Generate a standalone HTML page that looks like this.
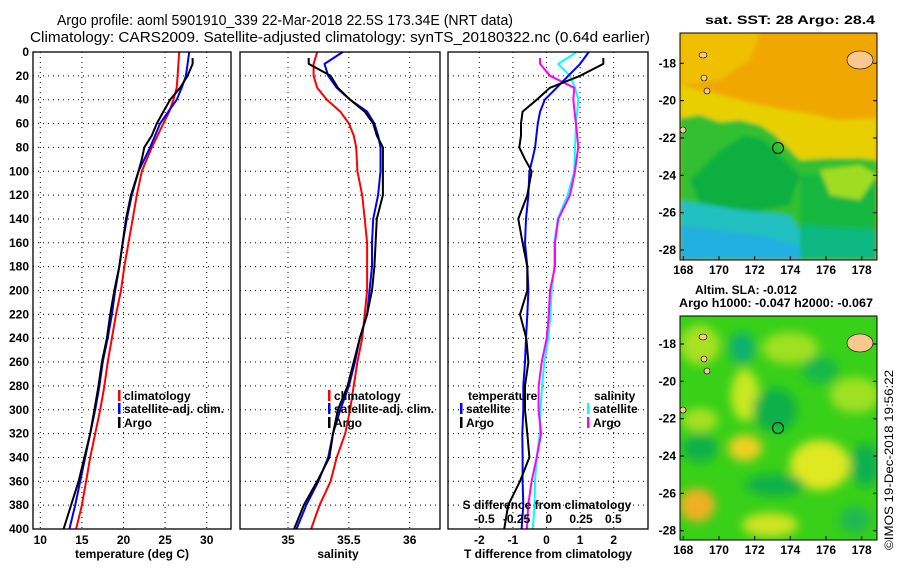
<!DOCTYPE html>
<html><head><meta charset="utf-8">
<style>
html,body{margin:0;padding:0;background:#fff;}
svg{display:block;font-family:"Liberation Sans",sans-serif;}
.t{font-size:12px;font-weight:bold;fill:#000;}
.ttl{font-size:15px;fill:#000;}
</style></head>
<body>
<svg id="chart" width="900" height="580" viewBox="0 0 900 580" xmlns="http://www.w3.org/2000/svg">
<defs>
<filter id="blur6" x="-30%" y="-30%" width="160%" height="160%"><feGaussianBlur stdDeviation="5"/></filter>
<filter id="blur2"><feGaussianBlur stdDeviation="2"/></filter>
<clipPath id="clipTop"><rect x="680" y="33" width="197" height="227"/></clipPath>
<clipPath id="clipBot"><rect x="680" y="316" width="197" height="224"/></clipPath>
</defs>
<text class="ttl" x="57" y="25" textLength="456" lengthAdjust="spacingAndGlyphs">Argo profile: aoml 5901910_339 22-Mar-2018 22.5S 173.34E (NRT data)</text>
<text class="ttl" x="30" y="42" textLength="620" lengthAdjust="spacingAndGlyphs">Climatology: CARS2009. Satellite-adjusted climatology: synTS_20180322.nc (0.64d earlier)</text>
<g id="g1"></g>
<g id="g2"></g>
<g id="g3"></g>

<g>
<text class="t" x="705" y="24" textLength="170" lengthAdjust="spacingAndGlyphs">sat. SST: 28 Argo: 28.4</text>
<g clip-path="url(#clipTop)">
<rect x="680" y="33" width="197" height="227" fill="#f0a800"/>
<g filter="url(#blur2)">
<polygon points="680,33 760,33 750,60 720,80 680,85" fill="#f0c000"/>
<polygon points="680,85 720,95 760,105 800,112 840,120 877,118 877,165 680,165" fill="#e8d000"/>
<polygon points="680,118 700,115 720,122 740,120 760,125 775,135 790,150 800,160 830,158 860,158 877,160 877,260 680,260" fill="#30c030"/>
<polygon points="720,150 745,135 765,140 790,165 800,175 790,205 740,215 700,205 690,180" fill="#10b040"/>
<polygon points="800,175 877,170 877,260 800,260" fill="#18b840"/>
<polygon points="820,170 860,165 877,175 860,200 830,195" fill="#a0dc20"/>
<polygon points="680,200 740,210 790,215 800,230 800,260 680,260" fill="#20c0c0"/>
<polygon points="680,225 760,235 800,245 800,260 680,260" fill="#20b0e0"/>
<polygon points="800,225 877,230 877,260 800,260" fill="#10b880"/>
</g>
<ellipse cx="860" cy="60" rx="13" ry="9" fill="#f8c890" stroke="#000" stroke-width="0.6"/>
<ellipse cx="703" cy="55" rx="4" ry="3" fill="#f8c890" stroke="#000" stroke-width="0.6"/>
<ellipse cx="704" cy="78" rx="3" ry="3" fill="#f8c890" stroke="#000" stroke-width="0.6"/>
<ellipse cx="707" cy="91" rx="3" ry="3" fill="#f8c890" stroke="#000" stroke-width="0.6"/>
<ellipse cx="683" cy="130" rx="3" ry="3" fill="#f8c890" stroke="#000" stroke-width="0.6"/>
</g>
<circle cx="778" cy="148" r="5.5" fill="none" stroke="#000" stroke-width="1"/>
<rect x="680" y="33" width="197" height="227" fill="none" stroke="#000" stroke-width="1"/>
</g>

<g>
<text class="t" x="695" y="294">Altim. SLA: -0.012</text>
<text class="t" x="679" y="307" textLength="194" lengthAdjust="spacingAndGlyphs">Argo h1000: -0.047 h2000: -0.067</text>
<g clip-path="url(#clipBot)">
<rect x="680" y="316" width="197" height="224" fill="#38d018"/>
<g filter="url(#blur6)">
<ellipse cx="700" cy="345" rx="20" ry="20" fill="#a8e020"/>
<ellipse cx="790" cy="348" rx="28" ry="16" fill="#a0e020"/>
<ellipse cx="855" cy="395" rx="25" ry="18" fill="#a0e020"/>
<ellipse cx="745" cy="395" rx="14" ry="26" fill="#c8e820"/>
<ellipse cx="700" cy="420" rx="18" ry="12" fill="#a8e020"/>
<ellipse cx="742" cy="348" rx="13" ry="16" fill="#10b070"/>
<ellipse cx="775" cy="410" rx="22" ry="22" fill="#10b048"/>
<ellipse cx="700" cy="448" rx="18" ry="14" fill="#10b048"/>
<ellipse cx="745" cy="448" rx="17" ry="13" fill="#f0d020"/>
<ellipse cx="820" cy="465" rx="30" ry="25" fill="#e0e820"/>
<ellipse cx="775" cy="485" rx="30" ry="11" fill="#10b048"/>
<ellipse cx="697" cy="505" rx="18" ry="17" fill="#f0b020"/>
<ellipse cx="770" cy="525" rx="28" ry="12" fill="#d0e420"/>
<ellipse cx="865" cy="465" rx="14" ry="22" fill="#10b050"/>
<ellipse cx="855" cy="520" rx="16" ry="14" fill="#20b850"/>
<ellipse cx="820" cy="370" rx="18" ry="14" fill="#18b848"/>
</g>
<ellipse cx="860" cy="343" rx="13" ry="9" fill="#f8c890" stroke="#000" stroke-width="0.6"/>
<ellipse cx="703" cy="337" rx="4" ry="3" fill="#f8c890" stroke="#000" stroke-width="0.6"/>
<ellipse cx="704" cy="359" rx="3" ry="3" fill="#f8c890" stroke="#000" stroke-width="0.6"/>
<ellipse cx="707" cy="371" rx="3" ry="3" fill="#f8c890" stroke="#000" stroke-width="0.6"/>
<ellipse cx="683" cy="410" rx="3" ry="3" fill="#f8c890" stroke="#000" stroke-width="0.6"/>
</g>
<circle cx="778" cy="428" r="5.5" fill="none" stroke="#000" stroke-width="1"/>
<rect x="680" y="316" width="197" height="224" fill="none" stroke="#000" stroke-width="1"/>
</g>
<text class="t" transform="translate(893,550) rotate(-90)" textLength="180" lengthAdjust="spacingAndGlyphs" style="font-weight:normal">©IMOS 19-Dec-2018 19:56:22</text>
<g id="gm"></g>
</svg>
<script>
// ---- data ----
const depths = [0,10,20,30,40,50,60,70,80,90,100,120,140,160,180,200,220,240,260,280,300,320,340,360,380,400];
const tempClim = [26.7,26.6,26.5,26.4,26.0,25.5,24.8,24.1,23.4,22.8,22.2,21.6,21.1,20.6,20.1,19.7,19.1,18.6,18.1,17.7,17.2,16.6,16.0,15.5,15.0,14.3];
const tempSat = [27.9,27.7,27.5,27.0,26.4,25.4,24.4,23.8,23.2,22.5,21.8,21.0,20.4,19.9,19.5,19.0,18.6,18.1,17.5,17.1,16.6,16.0,15.4,14.8,14.2,13.5];
const argoDepths = [5,10,20,30,40,50,60,70,80,90,100,120,140,160,180,200,220,240,260,280,300,320,340,360,380,400];
const tempArgo = [28.3,28.3,27.7,26.8,25.6,24.8,24.0,23.4,22.5,22.2,21.8,20.9,20.3,19.9,19.5,18.9,18.4,18.0,17.4,17.0,16.5,16.0,15.3,14.6,13.7,12.8];
const salClim = [35.24,35.21,35.21,35.24,35.32,35.43,35.50,35.54,35.56,35.565,35.57,35.61,35.63,35.65,35.65,35.65,35.63,35.61,35.57,35.54,35.51,35.47,35.40,35.35,35.26,35.19];
const salSat = [35.45,35.30,35.33,35.40,35.51,35.65,35.71,35.74,35.76,35.76,35.76,35.74,35.70,35.69,35.69,35.67,35.65,35.59,35.55,35.50,35.43,35.37,35.33,35.25,35.15,35.07];
const salArgo = [35.17,35.17,35.35,35.41,35.51,35.63,35.70,35.73,35.78,35.78,35.78,35.78,35.73,35.72,35.71,35.69,35.65,35.59,35.54,35.49,35.41,35.37,35.34,35.24,35.13,35.05];
const dTSat = [1.26,1.0,0.65,0.30,-0.05,-0.19,-0.26,-0.30,-0.34,-0.42,-0.51,-0.54,-0.61,-0.64,-0.57,-0.54,-0.57,-0.61,-0.64,-0.69,-0.69,-0.72,-0.71,-0.71,-0.69,-0.74];
const dTArgo = [1.69,1.69,1.0,0.10,-0.29,-0.71,-0.76,-0.76,-0.81,-0.64,-0.44,-0.57,-0.84,-0.71,-0.57,-0.57,-0.79,-0.60,-0.54,-0.64,-0.64,-0.57,-0.51,-0.79,-1.14,-1.26];
const dSSat = [0.216,0.074,0.164,0.203,0.229,0.22,0.211,0.207,0.203,0.20,0.198,0.146,0.069,0.043,0.043,0.022,0.013,-0.004,-0.035,-0.052,-0.065,-0.07,-0.094,-0.107,-0.11,-0.125];
const dSArgo = [-0.068,-0.068,0.01,0.198,0.19,0.20,0.21,0.22,0.229,0.215,0.203,0.164,0.074,0.048,0.048,0.009,0.0,-0.016,-0.055,-0.078,-0.08,-0.06,-0.094,-0.133,-0.16,-0.17];
const depthTicks = [0,20,40,60,80,100,120,140,160,180,200,220,240,260,280,300,320,340,360,380,400];
const tempTicks = [10,15,20,25,30];
const salTicks = [35,35.5,36];
const dTTicks = [-2,-1,0,1,2];
const dSTicks = [-0.5,-0.25,0,0.25,0.5];
const lonTicks = [168,170,172,174,176,178];
const latTicks = [-18,-20,-22,-24,-26,-28];

// ---- scales ----
const Y0=52, Y1=529;
const yD = d => Y0 + d*(Y1-Y0)/400;
const xT = v => 40.3 + (v-10)*8.32;
const xS = v => 288 + (v-35)*121.7;
const xDT = v => 546.5 + v*33.6;
const xDS = v => 548.8 + v*129;
const xLon = v => 683.3 + (v-168)*17.84;
const yLatTop = v => 63.3 + (-18-v)*18.67;
const yLatBot = v => 344 + (-18-v)*18.67;
const NS='http://www.w3.org/2000/svg';
function mk(parent, tag, attrs, text){
  const e=document.createElementNS(NS,tag);
  for(const k in attrs) e.setAttribute(k,attrs[k]);
  if(text!==undefined) e.textContent=text;
  parent.appendChild(e); return e;
}
function panel(g, x0, x1, name){
  depthTicks.forEach(d=>{
    if(d>0&&d<400){
      const l=mk(g,'line',{x1:x0,x2:x1,y1:yD(d),y2:yD(d),stroke:'#000','stroke-width':1,'stroke-dasharray':'1,4'});
      
      
    }
  });
}
function frame(g,x0,x1,name){
  const r=mk(g,'rect',{x:x0,y:Y0,width:x1-x0,height:Y1-Y0,fill:'none',stroke:'#000','stroke-width':1.3});
  
  
}
function vgrid(g,ticks,fx,name,lab,ly){
  ticks.forEach(v=>{
    const x=fx(v);
    const l=mk(g,'line',{x1:x,x2:x,y1:Y0,y2:Y1,stroke:'#000','stroke-width':1,'stroke-dasharray':'1,4'});
    
    
    if(lab){
      const t=mk(g,'text',{x:x,y:ly,'text-anchor':'middle',class:'t'},String(v));
      
      
    }
  });
}
function line(g, xs, ds, fx, color, name, w){
  const pts = xs.map((v,i)=>fx(v).toFixed(1)+','+yD(ds[i]).toFixed(1)).join(' ');
  const p=mk(g,'polyline',{points:pts,fill:'none',stroke:color,'stroke-width':w||2,'stroke-linejoin':'round'});
  
  
}
function legend(g, x, y, color, label, name){
  const r=mk(g,'rect',{x:x,y:y-10,width:2.5,height:11,fill:color});
  
  
  if(label){
    const t=mk(g,'text',{x:x+6,y:y,class:'t'},label);
    
    
  }
}
// panel 1
const g1=document.getElementById('g1');
panel(g1,33,231,'temp');
vgrid(g1,tempTicks,xT,'temp',true,544);
depthTicks.forEach(d=>{
  const t=mk(g1,'text',{x:29,y:yD(d)+4,'text-anchor':'end',class:'t'},String(d));
  
  
});
line(g1,tempClim,depths,xT,'#ff0000','temp-climatology-line');
line(g1,tempSat,depths,xT,'#0000ff','temp-satellite-line');
line(g1,tempArgo,argoDepths,xT,'#000000','temp-argo-line');
frame(g1,33,231,'temp');
legend(g1,118,400,'#ff0000','climatology','temp-legend-climatology');
legend(g1,118,413,'#0000ff','satellite-adj. clim.','temp-legend-satellite');
legend(g1,118,427,'#000000','Argo','temp-legend-argo');
let at=mk(g1,'text',{x:132,y:558,'text-anchor':'middle',class:'t'},'temperature (deg C)');


// panel 2
const g2=document.getElementById('g2');
panel(g2,240,440,'sal');
vgrid(g2,salTicks,xS,'sal',true,544);
line(g2,salClim,depths,xS,'#ff0000','sal-climatology-line');
line(g2,salSat,depths,xS,'#0000ff','sal-satellite-line');
line(g2,salArgo,argoDepths,xS,'#000000','sal-argo-line');
frame(g2,240,440,'sal');
legend(g2,328,400,'#ff0000','climatology','sal-legend-climatology');
legend(g2,328,413,'#0000ff','satellite-adj. clim.','sal-legend-satellite');
legend(g2,328,427,'#000000','Argo','sal-legend-argo');
at=mk(g2,'text',{x:338,y:558,'text-anchor':'middle',class:'t'},'salinity');


// panel 3
const g3=document.getElementById('g3');
panel(g3,448,648,'diff');
vgrid(g3,dTTicks,xDT,'diff',true,544);
line(g3,dSSat,depths,xDS,'#00ffff','dS-satellite-line');
line(g3,dSArgo,argoDepths,xDS,'#ff00ff','dS-argo-line');
line(g3,dTSat,depths,xDT,'#0000ff','dT-satellite-line');
line(g3,dTArgo,argoDepths,xDT,'#000000','dT-argo-line');
frame(g3,448,648,'diff');
dSTicks.forEach(v=>{
  const t=mk(g3,'text',{x:xDS(v),y:523,'text-anchor':'middle',class:'t'},String(v));
  
  
});
at=mk(g3,'text',{x:547,y:509,'text-anchor':'middle',class:'t'},'S difference from climatology');


at=mk(g3,'text',{x:548,y:558,'text-anchor':'middle',class:'t'},'T difference from climatology');


at=mk(g3,'text',{x:468,y:400,class:'t'},'temperature');


at=mk(g3,'text',{x:594,y:400,class:'t'},'salinity');


legend(g3,460,413,'#0000ff','satellite','dT-legend-satellite');
legend(g3,460,427,'#000000','Argo','dT-legend-argo');
legend(g3,587,413,'#00ffff','satellite','dS-legend-satellite');
legend(g3,587,427,'#ff00ff','Argo','dS-legend-argo');
// maps axes
const gm=document.getElementById('gm');
[[yLatTop,260,274],[yLatBot,540,554]].forEach(([fy,yb,ly])=>{
  lonTicks.forEach(v=>{
    const x=xLon(v);
    mk(gm,'line',{x1:x,x2:x,y1:yb,y2:yb-4,stroke:'#000'});
    const t=mk(gm,'text',{x:x,y:ly,'text-anchor':'middle',class:'t'},String(v));
    
    
  });
  latTicks.forEach(v=>{
    const y=fy(v);
    mk(gm,'line',{x1:877,x2:873,y1:y,y2:y,stroke:'#000'});
    mk(gm,'line',{x1:680,x2:684,y1:y,y2:y,stroke:'#000'});
    const t=mk(gm,'text',{x:676,y:y+4,'text-anchor':'end',class:'t'},String(v));
    
    
  });
});
</script>
</body></html>
